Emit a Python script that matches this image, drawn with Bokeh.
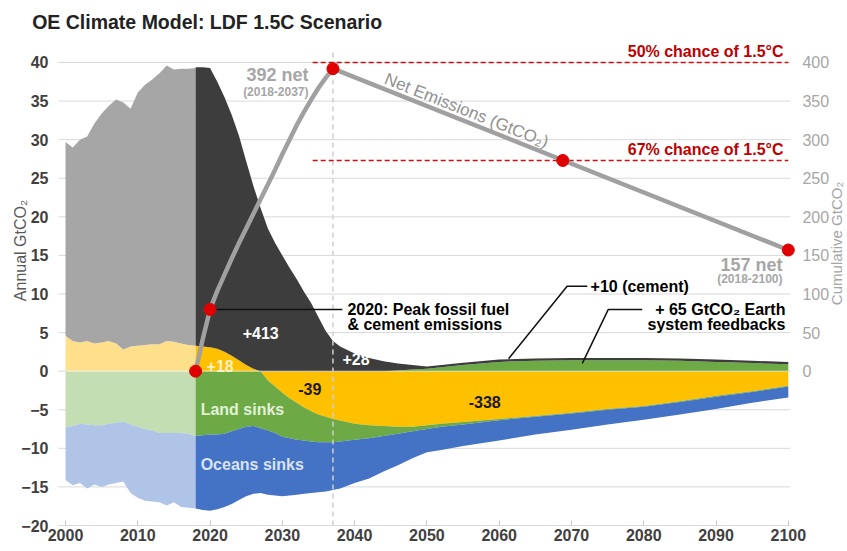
import numpy as np
from bokeh.plotting import figure
from bokeh.models import Range1d, LinearAxis, FixedTicker, Label
from bokeh.embed import file_html
from bokeh.resources import INLINE

FONT = "Liberation Sans"

# ---------------- data ----------------
hist_years = list(range(2000, 2019))
hist_landuse = [4.6, 3.9, 3.7, 3.9, 3.6, 3.7, 3.9, 3.6, 2.8, 3.2, 3.3, 3.4, 3.5, 3.5, 3.9, 3.8, 3.6, 3.4, 3.3]
hist_fossil = [25.1, 25.1, 26.3, 26.5, 28.5, 29.7, 30.5, 31.6, 32.0, 30.8, 32.8, 33.7, 34.3, 35.1, 35.7, 35.3, 35.6, 35.8, 36.0]
hist_land_sink = [-7.3, -7.1, -6.8, -6.9, -7.0, -7.0, -6.8, -6.7, -6.5, -6.9, -7.2, -7.5, -7.7, -8.0, -8.0, -8.0, -8.0, -8.1, -8.4]
hist_ocean_sink = [-6.8, -7.7, -7.7, -8.3, -7.7, -8.0, -7.9, -7.8, -7.8, -8.9, -9.2, -9.3, -9.2, -9.0, -9.4, -9.0, -9.6, -9.6, -9.4]

fut_years = list(range(2018, 2039)) + [2040, 2042, 2044, 2046, 2048, 2050, 2052] + list(range(2055, 2101, 5))
fut_landuse = [3.3, 3.2, 3.1, 2.9, 2.5, 2.0, 1.4, 0.8, 0.3, 0.0,
               -1.2, -2.0, -2.8, -3.5, -4.1, -4.7, -5.2, -5.6, -5.9, -6.2, -6.4,
               -6.8, -7.0, -7.1, -7.2, -7.2, -7.0, -6.8,
               -6.6, -6.2, -5.8, -5.4, -4.9, -4.5, -3.9, -3.2, -2.6, -1.9]
fut_fossil = [36.1, 36.2, 36.2, 34.6, 33.0, 31.2, 29.1, 26.4, 23.7, 21.1,
              18.5, 16.6, 15.0, 13.4, 11.9, 10.3, 8.8, 7.0, 5.2, 3.9, 3.2,
              2.3, 1.7, 1.3, 0.9, 0.6, 0.3, 0.3,
              0.3, 0.3, 0.3, 0.3, 0.3, 0.3, 0.3, 0.3, 0.3, 0.3]
fut_feedback = [0.0] * 21 + [0.0, 0.0, 0.0, 0.1, 0.2, 0.3, 0.5,
                             0.8, 1.2, 1.35, 1.4, 1.4, 1.4, 1.35, 1.2, 1.05, 0.9]
fut_land_sink = [-8.4, -8.3, -8.2, -8.2, -8.1, -7.8, -7.5, -7.2, -7.1, -7.4,
                 -6.5, -6.0, -5.7, -5.2, -4.8, -4.3, -3.9, -3.6, -3.3, -3.0, -2.7,
                 -2.1, -1.7, -1.3, -0.9, -0.6, -0.5, -0.4,
                 -0.3, -0.15, -0.1, -0.1, -0.1, -0.1, -0.1, -0.1, -0.1, -0.1]
fut_ocean_sink = [-9.4, -9.7, -9.9, -9.7, -9.5, -9.4, -9.2, -9.0, -8.8, -8.4,
                  -8.3, -8.1, -7.7, -7.4, -7.1, -6.9, -6.7, -6.5, -6.4, -6.2, -6.1,
                  -5.6, -5.2, -4.6, -4.1, -3.5, -3.0, -3.0,
                  -2.8, -2.65, -2.3, -2.1, -1.9, -1.7, -1.6, -1.6, -1.4, -1.4]

cum_years = list(range(2018, 2038)) + [2100]
cum_values = [0, 42, 80, 104, 125, 146, 166, 185, 204, 223, 242, 261, 281, 300, 319, 336, 352, 367, 380, 392, 157]
dot_years = [2018, 2020, 2037, 2068.8, 2100]
dot_values = [0, 80, 392, 273, 157]
budget_values = [400, 273]
budget_start = 2034.2

left_ticks = list(range(-20, 41, 5))
right_ticks = list(range(0, 401, 50))
x_ticks = list(range(2000, 2101, 10))

# ---------------- layout (plot region inside a full-canvas frame) ----------------
PX0, PX1 = 1999.03, 2100.3      # left / right edge of the plotting area
Y_TOP_LINE = 41.5               # top of the 2037 marker line

p = figure(width=845, height=549, output_backend="svg", toolbar_location=None,
           x_range=Range1d(1991.007, 2107.914), y_range=Range1d(-23.11, 48.034),
           min_border_left=0, min_border_right=0, min_border_top=0, min_border_bottom=0)
p.outline_line_color = None
p.background_fill_color = "white"
p.extra_y_ranges = {"cum": Range1d(-231.1, 480.34)}
p.xgrid.grid_line_color = None
p.ygrid.grid_line_color = None

# grid lines limited to the plotting area
p.segment(x0=[PX0] * len(left_ticks), x1=[PX1] * len(left_ticks), y0=left_ticks, y1=left_ticks,
          line_color="#d9d9d9", line_width=1)

ly = p.left[0]
ly.fixed_location = PX0
ly.ticker = FixedTicker(ticks=left_ticks)
ly.axis_line_color = None
ly.major_tick_line_color = None
ly.minor_tick_line_color = None
ly.major_label_text_font = FONT
ly.major_label_text_font_size = "16px"
ly.major_label_text_font_style = "bold"
ly.major_label_text_color = "#404040"
ly.major_label_standoff = 4

bx = p.below[0]
bx.fixed_location = -20
bx.ticker = FixedTicker(ticks=x_ticks)
bx.axis_line_color = None
bx.major_tick_in = 5
bx.major_tick_out = 0
bx.major_tick_line_color = "#c8c8c8"
bx.minor_tick_line_color = None
bx.major_label_text_font = FONT
bx.major_label_text_font_size = "16px"
bx.major_label_text_font_style = "bold"
bx.major_label_text_color = "#404040"
bx.major_label_standoff = 3

ry = LinearAxis(y_range_name="cum", ticker=FixedTicker(ticks=right_ticks), fixed_location=PX1)
ry.axis_line_color = None
ry.major_tick_line_color = None
ry.minor_tick_line_color = None
ry.major_label_text_font = FONT
ry.major_label_text_font_size = "16px"
ry.major_label_text_color = "#a6a6a6"
ry.major_label_standoff = 6
p.add_layout(ry, "right")

# ---------------- areas ----------------
hl = np.array(hist_landuse)
hf = np.array(hist_fossil)
hs = np.array(hist_land_sink)
ho = np.array(hist_ocean_sink)
p.varea(x=hist_years, y1=0, y2=hl, fill_color="#FFE08A")
p.varea(x=hist_years, y1=hl, y2=hl + hf, fill_color="#A6A6A6")
p.varea(x=hist_years, y1=0, y2=hs, fill_color="#C3DEB2")
p.varea(x=hist_years, y1=hs, y2=hs + ho, fill_color="#AFC4E6")

fl = np.array(fut_landuse)
ff = np.array(fut_fossil)
fb = np.array(fut_feedback)
fs = np.array(fut_land_sink)
fo = np.array(fut_ocean_sink)
pos = np.maximum(fl, 0)
neg = np.minimum(fl, 0)
p.varea(x=fut_years, y1=0, y2=fl, fill_color="#FFC000")
p.varea(x=fut_years, y1=pos, y2=pos + fb, fill_color="#6DAA45")
p.varea(x=fut_years, y1=pos + fb, y2=pos + fb + ff, fill_color="#3D3D3D")
p.varea(x=fut_years, y1=neg, y2=neg + fs, fill_color="#6DAA45")
p.varea(x=fut_years, y1=neg + fs, y2=neg + fs + fo, fill_color="#4472C4")

# zero line and 2037 marker
p.segment(x0=[hist_years[0]], x1=[fut_years[-1]], y0=[0], y1=[0], line_color="white", line_alpha=0.6, line_width=1)
p.segment(x0=[dot_years[2]], x1=[dot_years[2]], y0=[left_ticks[0]], y1=[Y_TOP_LINE],
          line_color="#cfcfcf", line_dash="5 4", line_width=1.5)

# budget lines
p.segment(x0=[budget_start] * 2, x1=[2100] * 2, y0=budget_values, y1=budget_values,
          y_range_name="cum", line_color="#d01010", line_dash="5 3", line_width=1.3)

# leader lines
p.line([2020, 2038.3], [8.0, 8.0], line_color="#111111", line_width=1.5)
p.line([2072.2, 2069.4, 2061.3], [11.0, 11.0, 1.6], line_color="#111111", line_width=1.5)
p.line([2079.8, 2075.1, 2071.5], [8.0, 8.0, 1.0], line_color="#111111", line_width=1.5)

# cumulative line + dots
p.line(cum_years, cum_values, y_range_name="cum", line_color="#a0a0a0", line_width=4.5)
p.scatter(dot_years, dot_values, y_range_name="cum", size=12, fill_color="#e00000", line_color="#e00000")


def lab(text, x, y, size=16, color="#000000", style="bold", align="left", baseline="middle", angle=0.0):
    p.add_layout(Label(x=x, y=y, text=text, text_font=FONT, text_font_size=f"{size}px",
                       text_color=color, text_font_style=style, text_align=align,
                       text_baseline=baseline, angle=angle))


lab("OE Climate Model: LDF 1.5C Scenario", 1995.39, 45.31, size=19.5, color="#222222")
lab("Annual GtCO₂", 1993.77, 15.64, color="#595959", style="normal", align="center", angle=np.pi / 2)
lab("Cumulative GtCO₂", 2106.67, 16.55, size=15, color="#a6a6a6", style="normal", align="center", angle=np.pi / 2)

lab("392 net", 2033.62, 38.32, size=18, color="#a6a6a6", align="right")
lab("(2018-2037)", 2033.62, 36.24, size=12, color="#a6a6a6", align="right")
lab("157 net", 2099.2, 13.82, size=18, color="#a6a6a6", align="right")
lab("(2018-2100)", 2099.2, 11.88, size=12, color="#a6a6a6", align="right")
lab("Net Emissions (GtCO₂)", 2055.48, 33.78, size=17, color="#909090", style="normal", align="center", angle=-0.379)

lab("50% chance of 1.5°C", 2099.34, 41.43, color="#c00000", align="right")
lab("67% chance of 1.5°C", 2099.34, 28.73, color="#c00000", align="right")

lab("2020: Peak fossil fuel", 2039.0, 8.0)
lab("& cement emissions", 2039.0, 6.06)
lab("+10 (cement)", 2072.64, 11.0)
lab("+ 65 GtCO₂ Earth", 2099.6, 8.0, align="right")
lab("system feedbacks", 2099.6, 6.06, align="right")

lab("+413", 2027.0, 5.0, color="white", align="center")
lab("+18", 2021.4, 0.7, color="#FFF2CC", align="center")
lab("+28", 2040.2, 1.6, color="white", align="center")
lab("-39", 2033.8, -2.3, color="#1a1a1a", align="center")
lab("-338", 2058.0, -4.0, color="#1a1a1a", align="center")
lab("Land sinks", 2018.7, -5.0, color="#E2F0D9")
lab("Oceans sinks", 2018.7, -12.1, color="#DAE3F3")

open("out.html", "w").write(file_html(p, INLINE))
